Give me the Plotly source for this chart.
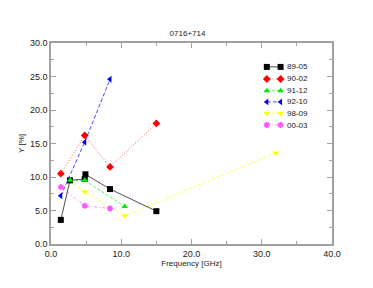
import plotly.graph_objects as go

names = ["89-05", "90-02", "91-12", "92-10", "98-09", "00-03"]
freqs = [
    [1.4, 2.7, 4.8, 4.9, 8.4, 15.0],
    [1.4, 4.8, 8.4, 15.0],
    [2.7, 4.8, 10.5],
    [1.4, 4.8, 8.4],
    [2.7, 4.8, 10.5, 32.0],
    [1.4, 4.8, 8.4],
]
vals = [
    [3.6, 9.5, 9.7, 10.4, 8.2, 4.9],
    [10.5, 16.2, 11.5, 18.0],
    [9.5, 9.5, 5.6],
    [7.2, 15.2, 24.6],
    [9.5, 7.8, 4.2, 13.6],
    [8.5, 5.7, 5.3],
]
colors = ["#000000", "#ff0000", "#00ee00", "#0000ff", "#ffff00", "#ff55ff"]
symbols = ["square", "diamond", "triangle-up", "triangle-left", "triangle-down", "asterisk-open"]
dashes = ["solid", "1px,2px", "3px,2px", "4px,2px", "3px,2px", "3px,2px,1px,2px"]
draw_order = [4, 5, 0, 1, 2, 3]

FONT = "Liberation Sans, Arial"
TXT = "#222222"
GRAY = "#a0a0a0"

def marker_for(i):
    if symbols[i] == "asterisk-open":
        return dict(symbol="asterisk-open", size=5, color=colors[i],
                    line=dict(width=1.5, color=colors[i]))
    return dict(symbol=symbols[i], color=colors[i], size=6, line=dict(width=0))

fig = go.Figure()
for i in draw_order:
    fig.add_trace(go.Scatter(
        x=freqs[i], y=vals[i], name=names[i], mode="lines+markers",
        line=dict(color=colors[i], width=0.7, dash=dashes[i]),
        marker=marker_for(i), showlegend=False,
    ))

# custom legend (two markers joined by a line, as in the reference)
leg_x = [0.768, 0.817]
leg_text_x = 0.832
leg_y = [0.881, 0.821, 0.763, 0.707, 0.650, 0.592]
for i in range(len(names)):
    fig.add_trace(go.Scatter(
        x=leg_x, y=[leg_y[i], leg_y[i]], xaxis="x2", yaxis="y2",
        mode="lines+markers", line=dict(color=colors[i], width=0.7, dash=dashes[i]),
        marker=marker_for(i), showlegend=False, hoverinfo="skip",
    ))
    fig.add_annotation(x=leg_text_x, y=leg_y[i], xref="x2", yref="y2", text=names[i],
                       showarrow=False, xanchor="left", yanchor="middle",
                       font=dict(family=FONT, size=8, color=TXT))

axis_common = dict(
    showline=True, linecolor=GRAY, linewidth=1.5, mirror="ticks",
    ticks="inside", ticklen=5, tickcolor=GRAY, tickwidth=1,
    showgrid=False, zeroline=False, tickformat=".1f",
    tickfont=dict(family=FONT, size=9, color=TXT),
)
fig.update_layout(
    width=373, height=288,
    margin=dict(l=35, r=49, t=35, b=52),
    paper_bgcolor="white", plot_bgcolor="white",
    title=dict(text="0716+714", x=(35 + 289 / 2) / 373, xanchor="center", y=1 - 25 / 288, yanchor="middle",
               font=dict(family=FONT, size=8, color=TXT)),
    xaxis=dict(range=[0, 40], dtick=10,
               minor=dict(dtick=5, ticks="inside", ticklen=3, tickcolor=GRAY),
               title=dict(text="Frequency [GHz]", standoff=1,
                          font=dict(family=FONT, size=8, color=TXT)),
               **axis_common),
    yaxis=dict(range=[0, 30], dtick=5,
               minor=dict(dtick=2.5, ticks="inside", ticklen=3, tickcolor=GRAY),
               title=dict(text="Y [%]", standoff=4,
                          font=dict(family=FONT, size=8, color=TXT)),
               **axis_common),
    xaxis2=dict(range=[0, 1], overlaying="x", visible=False),
    yaxis2=dict(range=[0, 1], overlaying="y", visible=False),
    showlegend=False,
)
fig.write_html("out.html")
